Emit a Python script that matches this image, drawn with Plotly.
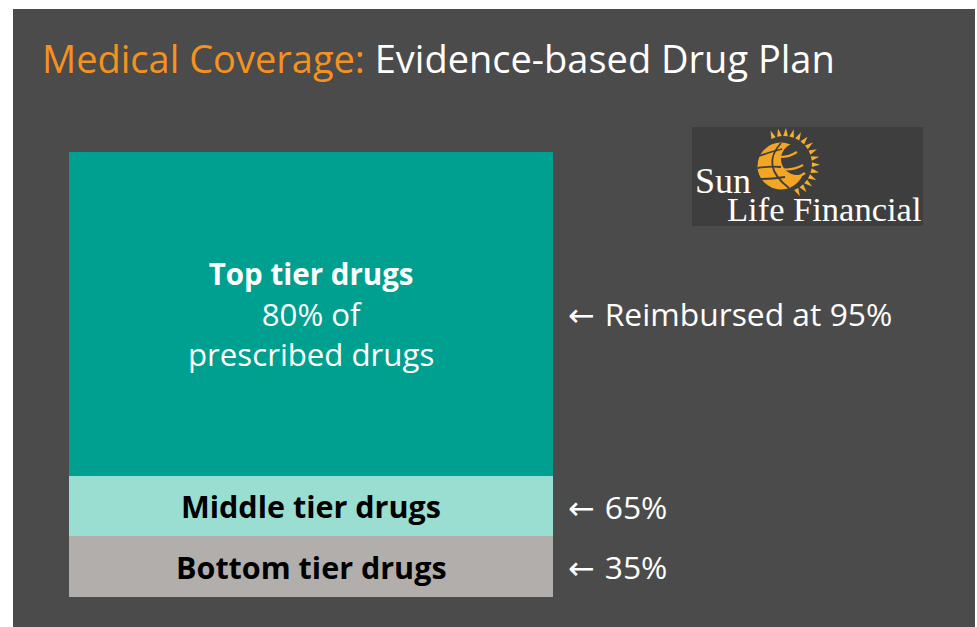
import numpy as np
import plotly.graph_objects as go

W, H = 977, 627

# ---- data ----
tiers = ["Bottom tier drugs", "Middle tier drugs", "Top tier drugs"]
tier_heights = [13.7, 13.5, 72.8]          # visual share of the bar
tier_labels = ["<b>Bottom tier drugs</b>", "<b>Middle tier drugs</b>",
               "<b><span style='font-size:29.5px'>Top tier drugs</span></b><br>80% of<br>prescribed drugs"]
reimbursed = ["35%", "65%", "Reimbursed at 95%"]
tier_colors = ["#B2AEAB", "#9ADDD1", "#00A090"]
label_colors = ["#000000", "#000000", "#FFFFFF"]

FONT = "Open Sans"
ARROW = "<span style='font-family:DejaVu Sans'>← </span>"


def X(px):
    return px / W


def Y(py):
    return 1 - py / H


def P(px, py):
    return f"{X(px):.5f},{Y(py):.5f}"


fig = go.Figure()
for name, h, c in zip(tiers, tier_heights, tier_colors):
    fig.add_trace(go.Bar(x=["plan"], y=[h], name=name, marker=dict(color=c, line=dict(width=0)),
                         hoverinfo="skip", showlegend=False))

total = sum(tier_heights)
cum = np.cumsum([0] + tier_heights)
annotations = []
for i in range(3):
    mid = (cum[i] + cum[i + 1]) / 2
    annotations.append(dict(x=0, y=mid, xref="x", yref="y", text=tier_labels[i], showarrow=False,
                            font=dict(family=FONT, size=30.5 if i < 2 else 31.2, color=label_colors[i]),
                            xanchor="center", yanchor="middle", align="center"))
    annotations.append(dict(x=X(566), y=mid, xref="paper", yref="y", text=ARROW + reimbursed[i],
                            showarrow=False,
                            font=dict(family=FONT, size=31.8, color="#FFFFFF"),
                            xanchor="left", yanchor="middle", align="left"))

# title
annotations.append(dict(x=X(40), y=Y(58), xref="paper", yref="paper",
                        text="<span style='color:#F5921E'>Medical Coverage:</span> Evidence-based Drug Plan",
                        showarrow=False, xanchor="left", yanchor="middle",
                        font=dict(family=FONT, size=38, color="#FFFFFF")))
# logo text: one block, tight line spacing set by the small base font size
annotations.append(dict(x=X(693), y=Y(195), xref="paper", yref="paper",
                        text="<span style='font-size:36px'>Sun</span><br>"
                             "<span style='font-size:32px'>&nbsp;&nbsp;&nbsp;&nbsp;</span>"
                             "<span style='font-size:34.5px'>Life Financial</span>",
                        showarrow=False, xanchor="left", yanchor="middle", align="left",
                        font=dict(family="Liberation Serif", size=21.5, color="#FFFFFF")))

shapes = [
    dict(type="rect", xref="paper", yref="paper", x0=X(13), x1=X(975), y0=Y(9), y1=Y(627),
         fillcolor="#4B4B4B", line=dict(width=0), layer="below"),
    dict(type="rect", xref="paper", yref="paper", x0=X(692), x1=X(923), y0=Y(127), y1=Y(226),
         fillcolor="#3E3E3E", line=dict(width=0), layer="below"),
]

ORANGE = "#F2A623"
DARK = "#3E3E3E"

# globe
gcx, gcy, gr = 781, 166, 23.5
shapes.append(dict(type="circle", xref="paper", yref="paper", x0=X(gcx - gr), x1=X(gcx + gr),
                   y0=Y(gcy + gr), y1=Y(gcy - gr), fillcolor=ORANGE, line=dict(width=0)))
# dark inner circle forming crescent
dcx, dcy, dr = 797, 159, 16
shapes.append(dict(type="circle", xref="paper", yref="paper", x0=X(dcx - dr), x1=X(dcx + dr),
                   y0=Y(dcy + dr), y1=Y(dcy - dr), fillcolor=DARK, line=dict(width=0)))
# orange stripes continuing inside dark area
for (x0, y0, qx, qy, x1, y1) in [(781, 169, 792, 171, 803, 165), (785, 180, 795, 180, 805, 173),
                                 (781, 157, 789, 157, 797, 152)]:
    shapes.append(dict(type="path", xref="paper", yref="paper",
                       path=f"M {P(x0, y0)} Q {P(qx, qy)} {P(x1, y1)}",
                       line=dict(color=ORANGE, width=2.2)))
# dark grid lines on the orange crescent
for (x0, y0, qx, qy, x1, y1) in [(759, 156, 770, 152, 782, 149), (758, 168, 770, 166, 781, 167),
                                 (761, 179, 772, 179, 785, 177)]:
    shapes.append(dict(type="path", xref="paper", yref="paper",
                       path=f"M {P(x0, y0)} Q {P(qx, qy)} {P(x1, y1)}",
                       line=dict(color=DARK, width=1.8)))
shapes.append(dict(type="path", xref="paper", yref="paper",
                   path=f"M {P(781, 143)} Q {P(760, 166)} {P(789, 188)}",
                   line=dict(color=DARK, width=1.8)))

# rays (drawn last so nothing covers them)
rcx, rcy = 784, 164
for a_deg in np.linspace(112, -64, 15):
    a = np.radians(a_deg)
    r0, r1, hw = 28, 36, np.radians(4.8)
    tip = (rcx + r1 * np.cos(a), rcy - r1 * np.sin(a))
    b1 = (rcx + r0 * np.cos(a - hw), rcy - r0 * np.sin(a - hw))
    b2 = (rcx + r0 * np.cos(a + hw), rcy - r0 * np.sin(a + hw))
    shapes.append(dict(type="path", xref="paper", yref="paper",
                       path=f"M {P(*b1)} L {P(*tip)} L {P(*b2)} Z",
                       fillcolor="#F3B02C", line=dict(width=0)))

fig.update_layout(
    width=W, height=H, margin=dict(l=0, r=0, t=0, b=0),
    paper_bgcolor="#FFFFFF", plot_bgcolor="rgba(0,0,0,0)",
    barmode="stack", bargap=0,
    xaxis=dict(domain=[X(69), X(553)], range=[-0.5, 0.5], visible=False, fixedrange=True),
    yaxis=dict(domain=[Y(597), Y(152)], range=[0, total], visible=False, fixedrange=True),
    shapes=shapes, annotations=annotations, showlegend=False,
)

fig.write_html("out.html", config={"displayModeBar": False},
               post_script="document.body.style.margin='0';document.body.style.overflow='hidden';")
